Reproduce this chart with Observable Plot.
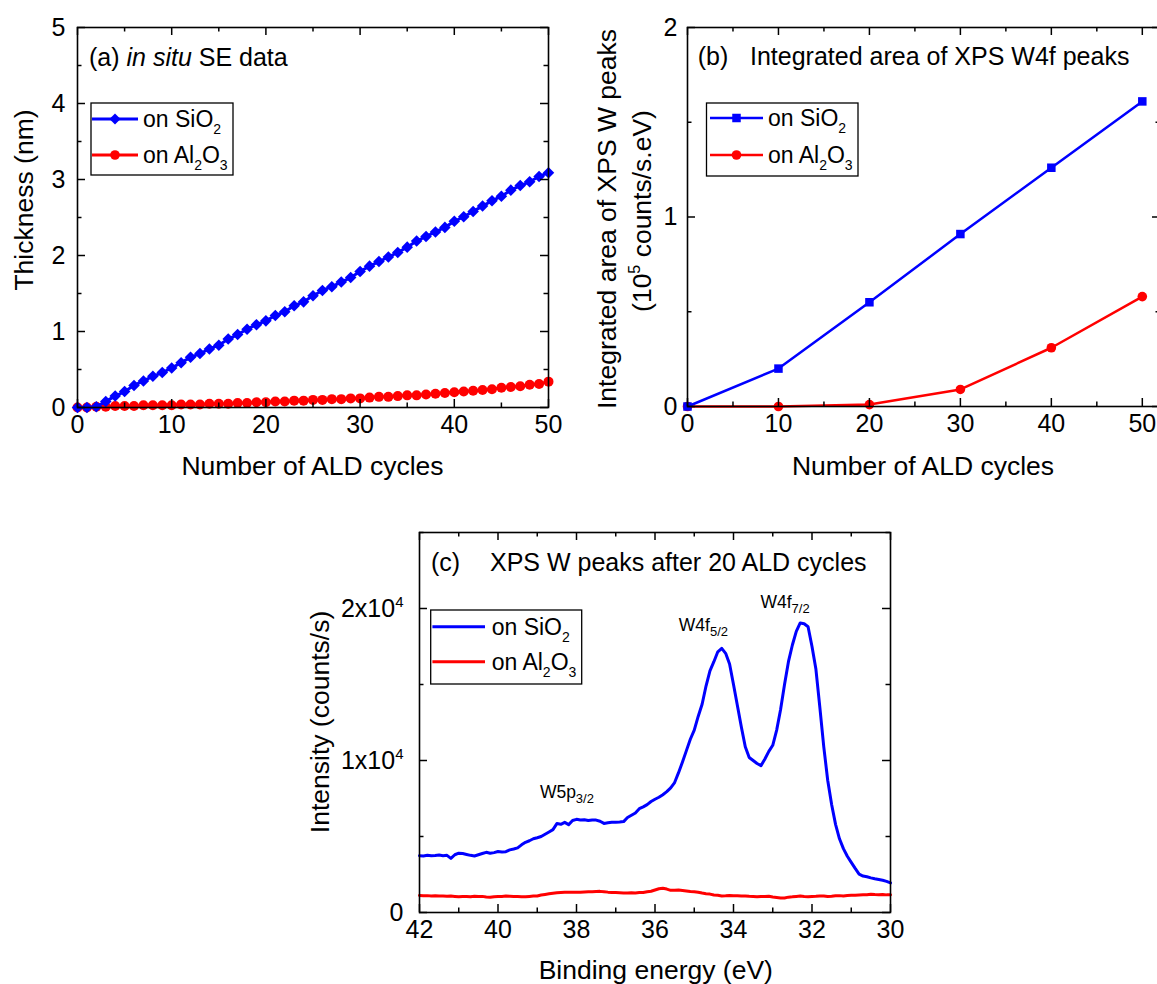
<!DOCTYPE html>
<html>
<head>
<meta charset="utf-8">
<script src="https://cdn.jsdelivr.net/npm/d3@7"></script>
<script src="https://cdn.jsdelivr.net/npm/@observablehq/plot@0.6"></script>
<style>
html, body { margin: 0; padding: 0; background: #fff; overflow: hidden; }
#fig { position: relative; width: 1157px; height: 984px; overflow: hidden; background: #fff; }
#fig svg { position: absolute; overflow: visible; max-width: none; }
</style>
</head>
<body>
<div id="fig"></div>
<script>
// ---------------- DATA ----------------
// (a) in situ SE thickness vs ALD cycles
const cyclesA = [0,1,2,3,4,5,6,7,8,9,10,11,12,13,14,15,16,17,18,19,20,21,22,23,24,25,26,27,28,29,30,31,32,33,34,35,36,37,38,39,40,41,42,43,44,45,46,47,48,49,50];
const thickSiO2 = [0.00,0.00,0.01,0.08,0.15,0.21,0.29,0.35,0.41,0.46,0.52,0.59,0.66,0.71,0.77,0.82,0.90,0.96,1.03,1.09,1.14,1.21,1.26,1.34,1.39,1.47,1.54,1.59,1.65,1.71,1.79,1.86,1.92,1.98,2.04,2.11,2.19,2.25,2.31,2.37,2.45,2.51,2.58,2.65,2.72,2.78,2.86,2.92,2.97,3.04,3.09];
const thickAl2O3 = [0.00,0.00,0.01,0.01,0.02,0.02,0.02,0.03,0.03,0.03,0.03,0.04,0.04,0.04,0.05,0.05,0.05,0.06,0.06,0.07,0.07,0.08,0.08,0.09,0.09,0.10,0.10,0.11,0.11,0.12,0.12,0.13,0.14,0.14,0.15,0.16,0.16,0.17,0.18,0.19,0.20,0.21,0.22,0.23,0.24,0.26,0.27,0.28,0.30,0.31,0.34];

// (b) integrated area of XPS W4f peaks (10^5 counts/s.eV)
const cyclesB = [0,10,20,30,40,50];
const areaSiO2 = [0.00,0.20,0.55,0.91,1.26,1.61];
const areaAl2O3 = [0.00,0.00,0.01,0.09,0.31,0.58];

// (c) XPS W spectra after 20 ALD cycles
const energyC = [42.0,41.9,41.8,41.7,41.6,41.5,41.4,41.3,41.2,41.1,
  41.0,40.9,40.8,40.7,40.6,40.5,40.4,40.3,40.2,40.1,
  40.0,39.9,39.8,39.7,39.6,39.5,39.4,39.3,39.2,39.1,
  39.0,38.9,38.8,38.7,38.6,38.5,38.4,38.3,38.2,38.1,
  38.0,37.9,37.8,37.7,37.6,37.5,37.4,37.3,37.2,37.1,
  37.0,36.9,36.8,36.7,36.6,36.5,36.4,36.3,36.2,36.1,
  36.0,35.9,35.8,35.7,35.6,35.5,35.4,35.3,35.2,35.1,
  35.0,34.9,34.8,34.7,34.6,34.5,34.4,34.3,34.2,34.1,
  34.0,33.9,33.8,33.7,33.6,33.5,33.4,33.3,33.2,33.1,
  33.0,32.9,32.8,32.7,32.6,32.5,32.4,32.3,32.2,32.1,
  32.0,31.9,31.8,31.7,31.6,31.5,31.4,31.3,31.2,31.1,
  31.0,30.9,30.8,30.7,30.6,30.5,30.4,30.3,30.2,30.1,
  30.0];
const intSiO2 = [3740,3720,3760,3730,3750,3780,3740,3760,3560,3800,
  3900,3880,3820,3760,3720,3800,3880,3960,3900,3940,
  4010,3980,4000,4120,4180,4250,4450,4620,4720,4850,
  4920,5000,5150,5300,5450,5850,5800,5930,5780,6050,
  6130,6080,6100,6050,6090,6080,6000,5860,5900,5930,
  5930,5950,5980,6250,6400,6550,6830,6950,7100,7300,
  7450,7580,7750,7950,8200,8550,9200,9900,10650,11400,
  12000,12900,13700,14900,15900,16500,17150,17380,17050,16350,
  15000,13600,12200,10900,10200,10000,9800,9660,10100,10600,
  11000,12000,13350,15000,16500,17600,18500,19050,19000,18800,
  17500,16000,13500,10900,8700,7100,5800,4850,4200,3700,
  3300,2900,2520,2400,2350,2280,2220,2170,2120,2050,
  1950];
const intAl2O3 = [1120,1100,1110,1090,1100,1080,1090,1070,1080,1060,
  1030,1050,1060,1040,1070,1050,1060,1020,1000,1040,
  1050,1060,1080,1070,1060,1050,1040,1030,1060,1080,
  1090,1150,1190,1230,1270,1300,1320,1330,1330,1340,
  1340,1340,1350,1360,1370,1380,1390,1370,1340,1320,
  1310,1300,1290,1280,1300,1290,1320,1310,1360,1400,
  1480,1560,1590,1540,1460,1470,1480,1450,1420,1380,
  1360,1330,1280,1240,1210,1150,1130,1090,1100,1120,
  1110,1100,1080,1090,1070,1060,1040,1060,1050,1070,
  1020,990,960,960,1010,1030,1060,1080,1050,1040,
  1060,1070,1090,1080,1050,1070,1100,1110,1090,1120,
  1130,1140,1150,1160,1170,1200,1180,1170,1190,1160,
  1160];

// tick values
const ticksCyclesMajor = [0,10,20,30,40,50];
const ticksCyclesMinor = [5,15,25,35,45];
const ticksThickMajor = [0,1,2,3,4,5];
const ticksThickMinor = [0.5,1.5,2.5,3.5,4.5];
const ticksAreaMajor = [0,1,2];
const ticksAreaMinor = [0.5,1.5];
const ticksEnergyMajor = [42,40,38,36,34,32,30];
const ticksEnergyMinor = [41,39,37,35,33,31];
const ticksIntMajor = [0,10000,20000];
const ticksIntMinor = [5000,15000,25000];

// peak annotations (data coordinates)
const peakLabels = [
  {main: "W4f", sub: "7/2", energy: 33.30, intensity: 20000},
  {main: "W4f", sub: "5/2", energy: 35.38, intensity: 18500},
  {main: "W5p", sub: "3/2", energy: 38.92, intensity: 7500}
];

const BLUE = "#0000ff", RED = "#ff0000";
const FONT = '"Liberation Sans", Arial, Helvetica, sans-serif';
const FS_TICK = 25, FS_AXIS = 26.5, FS_TITLE = 25, FS_LEG = 23, FS_ANN = 17.5;

// ---------------- HELPERS ----------------
const fig = document.getElementById("fig");

function frameTicks(xMaj, xMin, yMaj, yMin, fw, fh) {
  const s = {stroke: "black", strokeWidth: 1.5};
  const M = 8, m = 4.5;
  return [
    Plot.tickX(xMaj, {x: d => d, insetTop: fh - M, ...s}),
    Plot.tickX(xMaj, {x: d => d, insetBottom: fh - M, ...s}),
    Plot.tickX(xMin, {x: d => d, insetTop: fh - m, ...s}),
    Plot.tickX(xMin, {x: d => d, insetBottom: fh - m, ...s}),
    Plot.tickY(yMaj, {y: d => d, insetRight: fw - M, ...s}),
    Plot.tickY(yMaj, {y: d => d, insetLeft: fw - M, ...s}),
    Plot.tickY(yMin, {y: d => d, insetRight: fw - m, ...s}),
    Plot.tickY(yMin, {y: d => d, insetLeft: fw - m, ...s})
  ];
}

function panel(cfg) {
  const {left, top, width, height, m, xDomain, yDomain, xMaj, xMin, yMaj, yMin, yFmt, yPad, marks} = cfg;
  const fw = width - m.l - m.r, fh = height - m.t - m.b;
  const svg = Plot.plot({
    width, height,
    marginLeft: m.l, marginRight: m.r, marginTop: m.t, marginBottom: m.b,
    style: {fontFamily: FONT, fontSize: FS_TICK + "px", color: "black", background: "transparent", overflow: "visible"},
    x: {domain: xDomain},
    y: {domain: yDomain},
    marks: [
      ...marks,
      ...frameTicks(xMaj, xMin, yMaj, yMin, fw, fh),
      Plot.frame({stroke: "black", strokeWidth: 1.6}),
      Plot.axisX({anchor: "bottom", ticks: xMaj, tickSize: 0, tickPadding: 8, label: null, tickFormat: d => String(d)}),
      Plot.axisY({anchor: "left", ticks: yMaj, tickSize: 0, tickPadding: yPad || 11, label: null, tickFormat: yFmt || (d => String(d))})
    ]
  });
  svg.style.left = left + "px";
  svg.style.top = top + "px";
  svg.style.maxWidth = "none";
  fig.appendChild(svg);
  return svg;
}

function rich(sel, x, y, parts, size, anchor, subScale) {
  const t = sel.append("text")
    .attr("x", x).attr("y", y)
    .attr("font-family", FONT).attr("font-size", size)
    .attr("fill", "black")
    .attr("text-anchor", anchor || "start");
  let shift = 0;
  for (const p of parts) {
    const target = p.sub ? size * 0.3 : p.sup ? -size * 0.42 : 0;
    const ts = t.append("tspan").text(p.t).attr("dy", target - shift);
    shift = target;
    if (p.sub || p.sup) ts.attr("font-size", Math.round(size * (subScale || 0.62)));
    if (p.it) ts.attr("font-style", "italic");
  }
  return t;
}

function rotatedLabel(svg, cx, cy, parts, size) {
  const g = d3.select(svg).append("g").attr("transform", `translate(${cx},${cy}) rotate(-90)`);
  rich(g, 0, size * 0.35, parts, size, "middle");
}

function legend(svg, box, rows, size) {
  const g = d3.select(svg).append("g");
  g.append("rect").attr("x", box[0]).attr("y", box[1]).attr("width", box[2]).attr("height", box[3])
    .attr("fill", "white").attr("stroke", "black").attr("stroke-width", 1.3);
  for (const r of rows) {
    g.append("line").attr("x1", r.x1).attr("x2", r.x2).attr("y1", r.y).attr("y2", r.y)
      .attr("stroke", r.color).attr("stroke-width", r.sw);
    if (r.symbol) {
      g.append("path").attr("d", d3.symbol(r.symbol, Math.PI * r.r * r.r)())
        .attr("transform", `translate(${(r.x1 + r.x2) / 2},${r.y})`).attr("fill", r.color);
    }
    rich(g, r.tx, r.y + size * 0.35, r.parts, size);
  }
}

const SIO2 = [{t: "on SiO"}, {t: "2", sub: true}];
const AL2O3 = [{t: "on Al"}, {t: "2", sub: true}, {t: "O"}, {t: "3", sub: true}];

// ---------------- PANEL (a) ----------------
const dataA = cyclesA.map((c, i) => ({c, si: thickSiO2[i], al: thickAl2O3[i]}));
const svgA = panel({
  left: 0, top: 0, width: 580, height: 490,
  m: {l: 77, r: 32, t: 27, b: 83},
  xDomain: [0, 50], yDomain: [0, 5],
  xMaj: ticksCyclesMajor, xMin: ticksCyclesMinor, yMaj: ticksThickMajor, yMin: ticksThickMinor,
  yPad: 12,
  marks: [
    Plot.line(dataA, {x: "c", y: "al", stroke: RED, strokeWidth: 3}),
    Plot.dot(dataA, {x: "c", y: "al", fill: RED, r: 5, symbol: "circle"}),
    Plot.line(dataA, {x: "c", y: "si", stroke: BLUE, strokeWidth: 3}),
    Plot.dot(dataA, {x: "c", y: "si", fill: BLUE, r: 5.2, symbol: "diamond2"})
  ]
});
rich(d3.select(svgA), 89, 66, [{t: "(a) "}, {t: "in situ", it: true}, {t: " SE data"}], FS_TITLE);
rich(d3.select(svgA), 312.5, 475, [{t: "Number of ALD cycles"}], FS_AXIS, "middle");
rotatedLabel(svgA, 24, 200, [{t: "Thickness (nm)"}], FS_AXIS);
legend(svgA, [91, 103, 142, 72], [
  {x1: 92, x2: 138, y: 119, color: BLUE, sw: 3, symbol: d3.symbolDiamond2, r: 5, tx: 143, parts: SIO2},
  {x1: 92, x2: 138, y: 155, color: RED, sw: 3, symbol: d3.symbolCircle, r: 4.8, tx: 143, parts: AL2O3}
], FS_LEG);

// ---------------- PANEL (b) ----------------
const dataB = cyclesB.map((c, i) => ({c, si: areaSiO2[i], al: areaAl2O3[i]}));
const svgB = panel({
  left: 590, top: 0, width: 580, height: 490,
  m: {l: 97, r: 10, t: 27, b: 84},
  xDomain: [0, 52], yDomain: [0, 2],
  xMaj: ticksCyclesMajor, xMin: ticksCyclesMinor, yMaj: ticksAreaMajor, yMin: ticksAreaMinor,
  yPad: 10,
  marks: [
    Plot.line(dataB, {x: "c", y: "al", stroke: RED, strokeWidth: 2.5}),
    Plot.dot(dataB, {x: "c", y: "al", fill: RED, r: 4.8, symbol: "circle"}),
    Plot.line(dataB, {x: "c", y: "si", stroke: BLUE, strokeWidth: 2.5}),
    Plot.dot(dataB, {x: "c", y: "si", fill: BLUE, r: 4.8, symbol: "square"})
  ]
});
rich(d3.select(svgB), 107.7, 65, [{t: "(b)"}], FS_TITLE);
rich(d3.select(svgB), 160, 65, [{t: "Integrated area of XPS W4f peaks"}], FS_TITLE);
rich(d3.select(svgB), 333, 475, [{t: "Number of ALD cycles"}], FS_AXIS, "middle");
rotatedLabel(svgB, 17, 219, [{t: "Integrated area of XPS W peaks"}], FS_AXIS);
rotatedLabel(svgB, 52, 211, [{t: "(10"}, {t: "5", sup: true}, {t: " counts/s.eV)"}], FS_AXIS);
legend(svgB, [116.5, 103, 151.5, 73], [
  {x1: 120, x2: 173, y: 118, color: BLUE, sw: 2.5, symbol: d3.symbolSquare, r: 4.8, tx: 178, parts: SIO2},
  {x1: 120, x2: 173, y: 155, color: RED, sw: 2.5, symbol: d3.symbolCircle, r: 4.8, tx: 178, parts: AL2O3}
], FS_LEG);

// ---------------- PANEL (c) ----------------
const dataC = energyC.map((e, i) => ({e, si: intSiO2[i], al: intAl2O3[i]}));
const svgC = panel({
  left: 300, top: 440, width: 620, height: 544,
  m: {l: 119, r: 30, t: 92, b: 72},
  xDomain: [42, 30], yDomain: [0, 25000],
  xMaj: ticksEnergyMajor, xMin: ticksEnergyMinor, yMaj: ticksIntMajor, yMin: ticksIntMinor,
  yFmt: d => d === 0 ? "0" : `${d / 10000}x10`,
  yPad: 16,
  marks: [
    Plot.line(dataC, {x: "e", y: "al", stroke: RED, strokeWidth: 3}),
    Plot.line(dataC, {x: "e", y: "si", stroke: BLUE, strokeWidth: 3})
  ]
});
// superscript exponent on intensity tick labels
d3.select(svgC).selectAll('g[aria-label="y-axis tick label"] text').each(function () {
  const t = this.textContent;
  if (t.endsWith("x10")) {
    d3.select(this).append("tspan").attr("dy", -10).attr("font-size", 15).text("4");
  }
});
const xs = svgC.scale("x"), ys = svgC.scale("y");
for (const p of peakLabels) {
  rich(d3.select(svgC), xs.apply(p.energy), ys.apply(p.intensity), [{t: p.main}, {t: p.sub, sub: true}], FS_ANN, "start", 0.75);
}
rich(d3.select(svgC), 131, 131, [{t: "(c)"}], FS_TITLE);
rich(d3.select(svgC), 190, 131, [{t: "XPS W peaks after 20 ALD cycles"}], FS_TITLE);
rich(d3.select(svgC), 355.8, 539, [{t: "Binding energy (eV)"}], FS_AXIS, "middle");
rotatedLabel(svgC, 20, 282, [{t: "Intensity (counts/s)"}], FS_AXIS);
legend(svgC, [130.7, 170, 151, 74], [
  {x1: 132.4, x2: 185, y: 186.7, color: BLUE, sw: 3, tx: 191.7, parts: SIO2},
  {x1: 132.4, x2: 185, y: 221.7, color: RED, sw: 3, tx: 191.7, parts: AL2O3}
], FS_LEG);
</script>
</body>
</html>
